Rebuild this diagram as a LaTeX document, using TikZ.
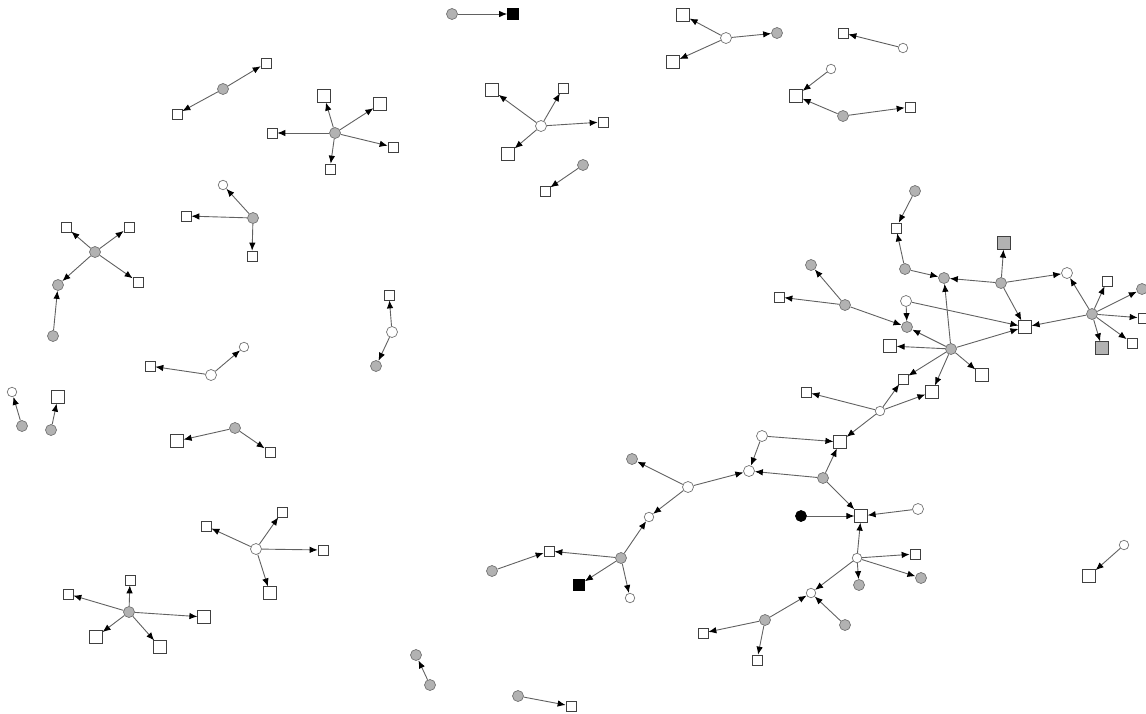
\documentclass[tikz,border=0pt]{standalone}
\usepackage{tikz}
\usetikzlibrary{shapes,arrows.meta}
\tikzstyle{sq} = [draw=black!75, fill=white, rectangle, minimum size=10pt, inner sep=0pt, line width=0.7pt]
\tikzstyle{bsq} = [sq, minimum size=12.5pt]
\tikzstyle{gsq} = [bsq, fill=black!30]
\tikzstyle{bks} = [sq, minimum size=11pt, fill=black, draw=black]
\tikzstyle{gc} = [draw=black!55, fill=black!30, circle, minimum size=11pt, inner sep=0pt, line width=0.7pt]
\tikzstyle{wc} = [gc, fill=white]
\tikzstyle{swc} = [wc, minimum size=9.5pt]
\tikzstyle{bkc} = [gc, fill=black, draw=black]
\tikzstyle{line} = [draw=black!62, line width=0.9pt, -{Latex[length=8pt,width=6.5pt,color=black]}]

\begin{document}
\begin{tikzpicture}[x=1pt,y=-1pt]
\useasboundingbox (0,0) rectangle (1146,713);
% small pieces, top
\node[gc] (p0) at (452,14) {};
\node[bks] (p1) at (513,14) {};
\draw[line] (p0) -- (p1);
%
\node[gc] (a0) at (223,89) {};
\node[sq] (a1) at (266,63) {};
\node[sq] (a2) at (177,114) {};
\draw[line] (a0) -- (a1);
\draw[line] (a0) -- (a2);
%
\node[gc] (b0) at (335,133) {};
\node[sq] (b1) at (272,133) {};
\node[bsq] (b2) at (324,96) {};
\node[bsq] (b3) at (380,104) {};
\node[sq] (b4) at (393,147) {};
\node[sq] (b5) at (330,169) {};
\foreach \i in {1,...,5} \draw[line] (b0) -- (b\i);
%
\node[wc] (c0) at (541,126) {};
\node[bsq] (c1) at (492,90) {};
\node[sq] (c2) at (563,88) {};
\node[sq] (c3) at (603,122) {};
\node[bsq] (c4) at (508,154) {};
\foreach \i in {1,...,4} \draw[line] (c0) -- (c\i);
%
\node[gc] (d0) at (583,165) {};
\node[sq] (d1) at (545,191) {};
\draw[line] (d0) -- (d1);
%
\node[wc] (e0) at (726,38) {};
\node[bsq] (e1) at (683,15) {};
\node[bsq] (e2) at (673,62) {};
\node[gc] (e3) at (777,33) {};
\foreach \i in {1,2,3} \draw[line] (e0) -- (e\i);
%
\node[swc] (f0) at (903,48) {};
\node[sq] (f1) at (843,33) {};
\draw[line] (f0) -- (f1);
%
\node[swc] (g0) at (831,69) {};
\node[bsq] (g1) at (796,96) {};
\node[gc] (g2) at (843,116) {};
\node[sq] (g3) at (910,107) {};
\draw[line] (g0) -- (g1);
\draw[line] (g2) -- (g1);
\draw[line] (g2) -- (g3);
% left side
\node[gc] (h0) at (253,218) {};
\node[swc] (h1) at (223,185) {};
\node[sq] (h2) at (186,216) {};
\node[sq] (h3) at (252,256) {};
\foreach \i in {1,2,3} \draw[line] (h0) -- (h\i);
%
\node[gc] (k0) at (95,252) {};
\node[sq] (k1) at (66,227) {};
\node[sq] (k2) at (129,227) {};
\node[sq] (k3) at (138,282) {};
\node[gc] (k4) at (58,285) {};
\node[gc] (k5) at (53,336) {};
\foreach \i in {1,...,4} \draw[line] (k0) -- (k\i);
\draw[line] (k5) -- (k4);
%
\node[wc] (m0) at (392,332) {};
\node[sq] (m1) at (389,295) {};
\node[gc] (m2) at (376,366) {};
\draw[line] (m0) -- (m1);
\draw[line] (m0) -- (m2);
%
\node[wc] (n0) at (211,375) {};
\node[sq] (n1) at (150,366) {};
\node[swc] (n2) at (244,347) {};
\draw[line] (n0) -- (n1);
\draw[line] (n0) -- (n2);
%
\node[gc] (q0) at (22,426) {};
\node[swc] (q1) at (12,392) {};
\draw[line] (q0) -- (q1);
\node[gc] (r0) at (51,430) {};
\node[bsq] (r1) at (58,397) {};
\draw[line] (r0) -- (r1);
%
\node[gc] (s0) at (235,428) {};
\node[bsq] (s1) at (177,441) {};
\node[sq] (s2) at (270,452) {};
\draw[line] (s0) -- (s1);
\draw[line] (s0) -- (s2);
%
\node[wc] (t0) at (256,549) {};
\node[sq] (t1) at (206,526) {};
\node[sq] (t2) at (282,512) {};
\node[bsq] (t3) at (270,593) {};
\node[sq] (t4) at (323,550) {};
\foreach \i in {1,...,4} \draw[line] (t0) -- (t\i);
%
\node[gc] (u0) at (129,612) {};
\node[sq] (u1) at (130,580) {};
\node[sq] (u2) at (68,594) {};
\node[bsq] (u3) at (204,617) {};
\node[bsq] (u4) at (96,637) {};
\node[bsq] (u5) at (160,647) {};
\foreach \i in {1,...,5} \draw[line] (u0) -- (u\i);
% bottom
\node[gc] (v0) at (430,685) {};
\node[gc] (v1) at (416,655) {};
\draw[line] (v0) -- (v1);
\node[gc] (w0) at (518,696) {};
\node[sq] (w1) at (571,706) {};
\draw[line] (w0) -- (w1);
\node[swc] (x0) at (1124,545) {};
\node[bsq] (x1) at (1089,576) {};
\draw[line] (x0) -- (x1);
% big component
\node[gc] (A1) at (915,191) {};
\node[sq] (S1) at (896,228) {};
\node[gc] (G2) at (905,269) {};
\node[gc] (G3) at (944,278) {};
\node[gc] (G4) at (1001,283) {};
\node[gsq] (Q4) at (1004,243) {};
\node[wc] (W5) at (1067,273) {};
\node[bsq] (S6) at (1025,327) {};
\node[wc] (W7) at (906,301) {};
\node[gc] (G8) at (907,327) {};
\node[gc] (G9) at (951,349) {};
\node[bsq] (S9a) at (890,346) {};
\node[bsq] (S9b) at (982,375) {};
\node[sq] (S9c) at (903,379) {};
\node[bsq] (S9d) at (932,392) {};
\node[gc] (G10) at (1092,314) {};
\node[sq] (S10a) at (1107,281) {};
\node[gc] (C10b) at (1142,289) {};
\node[sq] (S10c) at (1143,318) {};
\node[sq] (S10d) at (1132,343) {};
\node[gsq] (Q10e) at (1102,348) {};
\node[gc] (G11) at (845,305) {};
\node[gc] (C11a) at (811,265) {};
\node[sq] (S11b) at (779,297) {};
\node[swc] (W12) at (880,411) {};
\node[sq] (S12a) at (806,392) {};
\node[bsq] (S13) at (840,442) {};
\node[wc] (W14) at (762,436) {};
\node[wc] (W15) at (749,471) {};
\node[gc] (G16) at (823,478) {};
\node[bsq] (S17) at (861,516) {};
\node[wc] (W18) at (688,487) {};
\node[gc] (C18a) at (632,459) {};
\node[swc] (W19) at (649,517) {};
\node[gc] (G20) at (621,558) {};
\node[bks] (K20a) at (579,585) {};
\node[swc] (W20b) at (630,598) {};
\node[sq] (S20c) at (549,551) {};
\node[gc] (C20d) at (492,571) {};
\node[bkc] (K17a) at (801,516) {};
\node[wc] (W17b) at (918,509) {};
\node[swc] (W21) at (857,558) {};
\node[sq] (S21a) at (915,554) {};
\node[gc] (C21b) at (921,578) {};
\node[gc] (C21c) at (859,585) {};
\node[swc] (W22) at (811,593) {};
\node[gc] (C22a) at (845,625) {};
\node[gc] (G23) at (765,620) {};
\node[sq] (S23a) at (703,633) {};
\node[sq] (S23b) at (757,660) {};
%
\draw[line] (A1) -- (S1);
\draw[line] (G2) -- (S1);
\draw[line] (G2) -- (G3);
\foreach \t in {G3,Q4,W5,S6} \draw[line] (G4) -- (\t);
\draw[line] (W7) -- (S6);
\draw[line] (W7) -- (G8);
\foreach \t in {G3,G8,S9a,S6,S9b,S9c,S9d} \draw[line] (G9) -- (\t);
\foreach \t in {S6,W5,S10a,C10b,S10c,S10d,Q10e} \draw[line] (G10) -- (\t);
\foreach \t in {C11a,S11b,G8} \draw[line] (G11) -- (\t);
\foreach \t in {S9c,S9d,S12a,S13} \draw[line] (W12) -- (\t);
\draw[line] (W14) -- (S13);
\draw[line] (W14) -- (W15);
\foreach \t in {S13,W15,S17} \draw[line] (G16) -- (\t);
\foreach \t in {W15,C18a,W19} \draw[line] (W18) -- (\t);
\foreach \t in {W19,K20a,W20b,S20c} \draw[line] (G20) -- (\t);
\draw[line] (C20d) -- (S20c);
\draw[line] (K17a) -- (S17);
\draw[line] (W17b) -- (S17);
\foreach \t in {S17,S21a,C21b,C21c,W22} \draw[line] (W21) -- (\t);
\draw[line] (C22a) -- (W22);
\foreach \t in {W22,S23a,S23b} \draw[line] (G23) -- (\t);
\end{tikzpicture}
\end{document}
